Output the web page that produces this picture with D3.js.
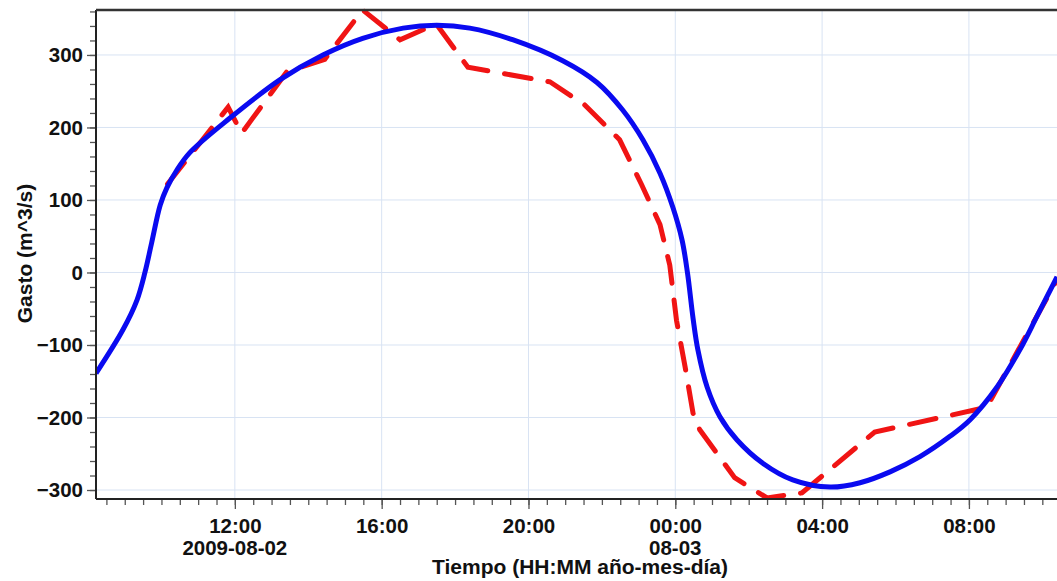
<!DOCTYPE html>
<html>
<head>
<meta charset="utf-8">
<script src="https://cdn.jsdelivr.net/npm/d3@7"></script>
<style>
  body { margin: 0; background: #fff; }
  svg text { font-family: "Liberation Sans", Arial, sans-serif; font-weight: bold; fill: #111; }
</style>
</head>
<body>
<div id="chart"></div>
<script>
// simulated discharge (blue, solid)
var blueTimes = ["2009-08-02 08:13", "2009-08-02 08:57", "2009-08-02 09:20", "2009-08-02 09:33", "2009-08-02 09:44",
  "2009-08-02 09:58", "2009-08-02 10:09", "2009-08-02 10:25", "2009-08-02 10:46", "2009-08-02 11:52",
  "2009-08-02 13:14", "2009-08-02 14:24", "2009-08-02 15:29", "2009-08-02 16:35", "2009-08-02 17:30",
  "2009-08-02 18:24", "2009-08-02 19:34", "2009-08-02 20:56", "2009-08-02 21:52", "2009-08-02 22:34",
  "2009-08-02 23:07", "2009-08-02 23:35", "2009-08-02 23:56", "2009-08-03 00:11", "2009-08-03 00:20",
  "2009-08-03 00:29", "2009-08-03 00:37", "2009-08-03 00:52", "2009-08-03 01:13", "2009-08-03 01:41",
  "2009-08-03 02:23", "2009-08-03 03:12", "2009-08-03 04:13", "2009-08-03 05:02", "2009-08-03 05:51",
  "2009-08-03 06:40", "2009-08-03 07:29", "2009-08-03 08:02", "2009-08-03 08:46", "2009-08-03 09:23",
  "2009-08-03 09:51", "2009-08-03 10:24"];
var blueValues = [-139, -79, -38, 0, 41, 93, 117, 141, 165, 213,
  266, 300, 323, 337, 341, 337, 321, 292, 262, 224,
  183, 137, 90, 45, -1, -63, -107, -158, -199, -231,
  -263, -286, -296, -290, -275, -254, -226, -203, -158, -107,
  -61, -6];

// observed discharge (red, dashed)
var redTimes = ["2009-08-02 10:10", "2009-08-02 11:49", "2009-08-02 12:11", "2009-08-02 13:25", "2009-08-02 14:27",
  "2009-08-02 15:29", "2009-08-02 16:30", "2009-08-02 17:29", "2009-08-02 18:21", "2009-08-02 20:35",
  "2009-08-02 21:32", "2009-08-02 22:29", "2009-08-02 23:05", "2009-08-02 23:35", "2009-08-02 23:51",
  "2009-08-03 00:02", "2009-08-03 00:16", "2009-08-03 00:29", "2009-08-03 00:40", "2009-08-03 01:37",
  "2009-08-03 02:30", "2009-08-03 03:27", "2009-08-03 05:26", "2009-08-03 08:29", "2009-08-03 10:24"];
var redValues = [122, 228, 192, 277, 294, 362, 321, 343, 283, 263,
  231, 183, 121, 66, 10, -66, -130, -194, -217, -283,
  -311, -304, -220, -186, -10];

var yTicks = [-300, -200, -100, 0, 100, 200, 300];
var dateLabelTimes = ["2009-08-02 12:00", "2009-08-03 00:00"];
var dateLabelTexts = ["2009-08-02", "08-03"];
var xDomain = ["2009-08-02 08:13", "2009-08-03 10:24"];
var yDomain = [-312.4, 362];

var parse = d3.timeParse("%Y-%m-%d %H:%M");

var margin = { top: 10, right: 0, bottom: 82, left: 96 };
var width = 1057 - margin.left - margin.right;
var height = 581 - margin.top - margin.bottom;

var svg = d3.select("#chart")
  .append("svg")
    .attr("width", 1057)
    .attr("height", 581)
  .append("g")
    .attr("transform", "translate(" + margin.left + "," + margin.top + ")");

var x = d3.scaleTime().domain(xDomain.map(parse)).range([0, width]);
var y = d3.scaleLinear().domain(yDomain).range([height, 0]);

// grid
svg.append("g")
  .selectAll("line.h")
  .data(yTicks)
  .enter().append("line")
    .attr("x1", 0).attr("x2", width)
    .attr("y1", function(d) { return y(d); })
    .attr("y2", function(d) { return y(d); })
    .attr("stroke", "#d8e3f3").attr("stroke-width", 1);

var majorX = d3.timeHour.every(4).range(x.domain()[0], x.domain()[1]);
svg.append("g")
  .selectAll("line.v")
  .data(majorX)
  .enter().append("line")
    .attr("x1", function(d) { return x(d); })
    .attr("x2", function(d) { return x(d); })
    .attr("y1", 0).attr("y2", height)
    .attr("stroke", "#d8e3f3").attr("stroke-width", 1);

// lines
svg.append("clipPath").attr("id", "clip")
  .append("rect").attr("x", 0).attr("y", -3).attr("width", width).attr("height", height + 3);

var blueData = blueTimes.map(function(t, i) { return { t: parse(t), v: blueValues[i] }; });
var redData = redTimes.map(function(t, i) { return { t: parse(t), v: redValues[i] }; });

var line = d3.line()
  .x(function(d) { return x(d.t); })
  .y(function(d) { return y(d.v); });

svg.append("path")
  .datum(redData)
  .attr("clip-path", "url(#clip)")
  .attr("fill", "none")
  .attr("stroke", "#f01414")
  .attr("stroke-width", 5)
  .attr("stroke-linecap", "round")
  .attr("stroke-dasharray", "27,17")
  .attr("d", line);

svg.append("path")
  .datum(blueData)
  .attr("clip-path", "url(#clip)")
  .attr("fill", "none")
  .attr("stroke", "#0a0af0")
  .attr("stroke-width", 5)
  .attr("d", line.curve(d3.curveCatmullRom.alpha(0.5)));

// y axis
var yAxis = svg.append("g");
yAxis.call(d3.axisLeft(y).tickValues(d3.range(-300, 361, 20)).tickSize(6).tickFormat(""))
  .call(function(g) { g.select(".domain").remove(); });
yAxis.selectAll(".tick line").attr("stroke", "#555").attr("stroke-width", 1.3);
var yMajor = svg.append("g");
yMajor.call(d3.axisLeft(y).tickValues(yTicks).tickSize(9).tickPadding(4))
  .call(function(g) { g.select(".domain").remove(); });
yMajor.selectAll(".tick line").attr("stroke", "#555").attr("stroke-width", 1.3);
yMajor.selectAll(".tick text").style("font-size", "20.5px").attr("fill", "#111");

// x axis
var xMinor = svg.append("g").attr("transform", "translate(0," + height + ")");
xMinor.call(d3.axisBottom(x).ticks(d3.timeMinute.every(30)).tickSize(6).tickFormat(""))
  .call(function(g) { g.select(".domain").remove(); });
xMinor.selectAll(".tick line").attr("stroke", "#555").attr("stroke-width", 1.3);
var xMajor = svg.append("g").attr("transform", "translate(0," + height + ")");
xMajor.call(d3.axisBottom(x).ticks(d3.timeHour.every(4)).tickSize(10).tickPadding(9)
    .tickFormat(d3.timeFormat("%H:%M")))
  .call(function(g) { g.select(".domain").remove(); });
xMajor.selectAll(".tick line").attr("stroke", "#555").attr("stroke-width", 1.3);
xMajor.selectAll(".tick text").style("font-size", "20.5px").attr("fill", "#111");

svg.append("g")
  .selectAll("text")
  .data(dateLabelTimes)
  .enter().append("text")
    .attr("x", function(d) { return x(parse(d)); })
    .attr("y", height + 56)
    .attr("text-anchor", "middle")
    .style("font-size", "20.5px")
    .text(function(d, i) { return dateLabelTexts[i]; });

// axis lines and frame
svg.append("line").attr("x1", 0).attr("x2", width).attr("y1", height).attr("y2", height)
  .attr("stroke", "#222").attr("stroke-width", 2);
svg.append("line").attr("x1", 0).attr("x2", 0).attr("y1", 0).attr("y2", height)
  .attr("stroke", "#222").attr("stroke-width", 2);
svg.append("line").attr("x1", 0).attr("x2", width).attr("y1", 0).attr("y2", 0)
  .attr("stroke", "#333").attr("stroke-width", 2.5);

// axis titles
svg.append("text")
  .attr("x", 484)
  .attr("y", height + 75)
  .attr("text-anchor", "middle")
  .style("font-size", "21px")
  .text("Tiempo (HH:MM año-mes-día)");

svg.append("text")
  .attr("transform", "translate(" + (-64) + "," + (height / 2 - 1) + ") rotate(-90)")
  .attr("text-anchor", "middle")
  .style("font-size", "21px")
  .text("Gasto (m^3/s)");
</script>
</body>
</html>
